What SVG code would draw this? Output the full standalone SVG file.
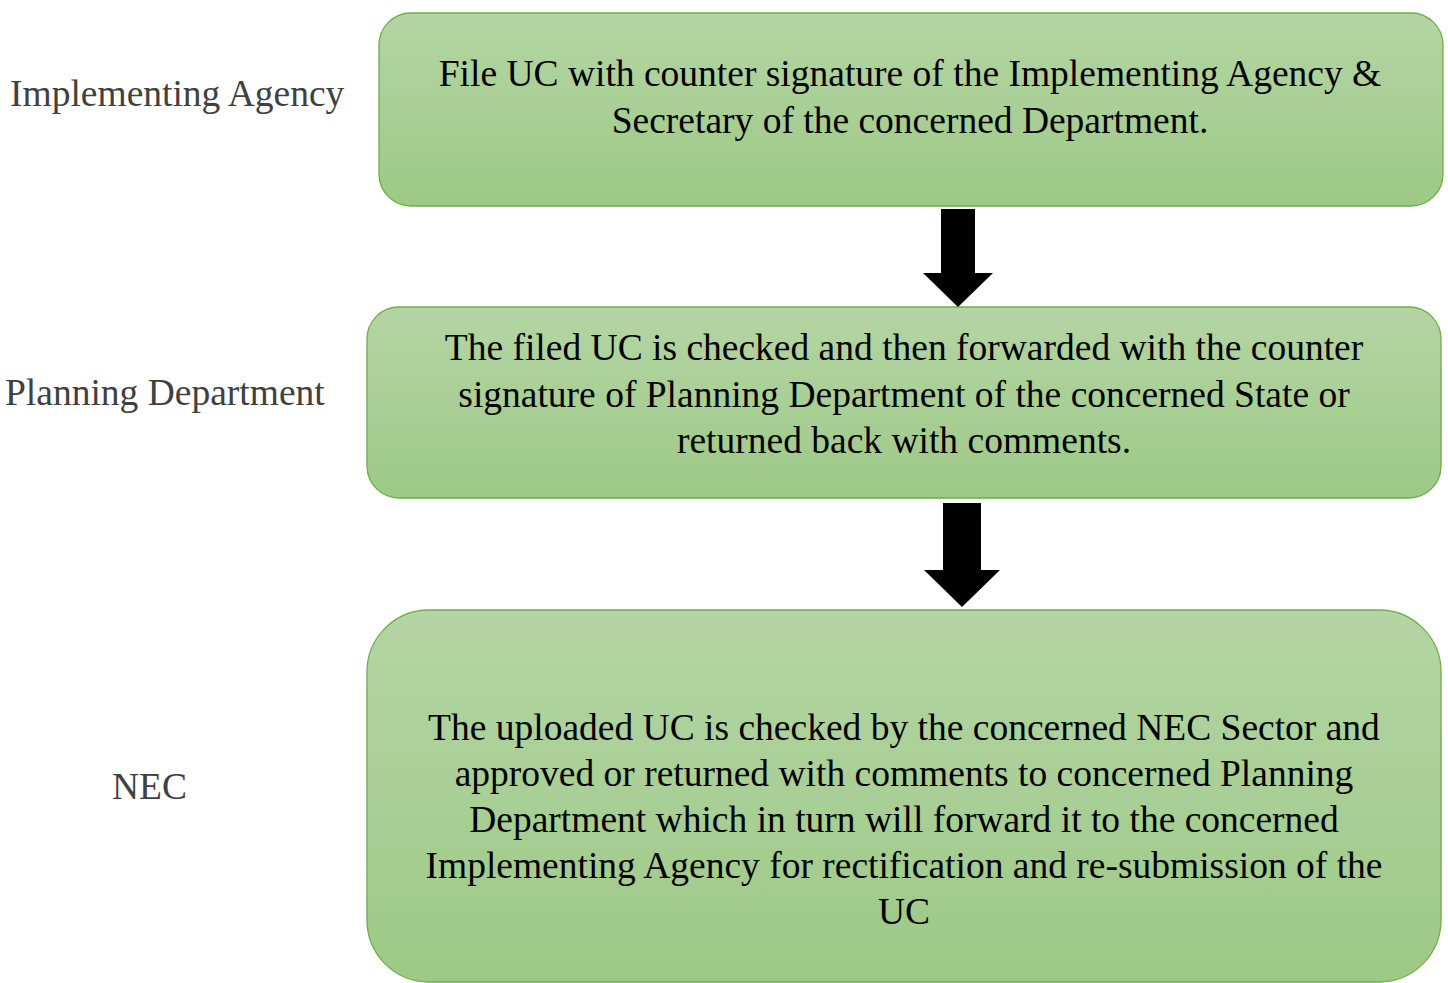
<svg xmlns="http://www.w3.org/2000/svg" width="1448" height="983" viewBox="0 0 1448 983">
<defs>
<linearGradient id="g" x1="0" y1="0" x2="0" y2="1">
<stop offset="0" stop-color="#b4d5a4"/>
<stop offset="1" stop-color="#9dc986"/>
</linearGradient>
<style>
.box{fill:url(#g);stroke:#70ad47;stroke-width:1.3}
.t{font-family:"Liberation Serif","Times New Roman",serif;font-size:37.5px;fill:#000;text-anchor:middle}
.lab{font-family:"Liberation Serif","Times New Roman",serif;font-size:37.5px;fill:#404040}
.arr{fill:#000}
</style>
</defs>
<rect width="1448" height="983" fill="#fff"/>
<g id="label-ia"><text class="lab" x="10" y="106">Implementing Agency</text></g>
<g id="label-pd"><text class="lab" x="5" y="405">Planning Department</text></g>
<g id="label-nec"><text class="lab" x="112" y="799">NEC</text></g>
<g id="node1">
<rect class="box" x="379" y="13" width="1064" height="193" rx="32"/>
<text class="t" x="910" y="86">File UC with counter signature of the Implementing Agency &amp;</text>
<text class="t" x="910" y="133">Secretary of the concerned Department.</text>
</g>
<g id="node2">
<rect class="box" x="367" y="307" width="1074" height="191" rx="32"/>
<text class="t" x="904" y="360">The filed UC is checked and then forwarded with the counter</text>
<text class="t" x="904" y="407">signature of Planning Department of the concerned State or</text>
<text class="t" x="904" y="453">returned back with comments.</text>
</g>
<g id="node3">
<rect class="box" x="367" y="610" width="1074" height="372" rx="62"/>
<text class="t" x="904" y="740">The uploaded UC is checked by the concerned NEC Sector and</text>
<text class="t" x="904" y="786">approved or returned with comments to concerned Planning</text>
<text class="t" x="904" y="832">Department which in turn will forward it to the concerned</text>
<text class="t" x="904" y="878">Implementing Agency for rectification and re-submission of the</text>
<text class="t" x="904" y="924">UC</text>
</g>
<g id="connectors">
<polygon class="arr" points="941,209 975,209 975,273 993,273 958,307 923,273 941,273"/>
<polygon class="arr" points="943,503 981,503 981,570 1000,570 962,607 924,570 943,570"/>
</g>
</svg>
